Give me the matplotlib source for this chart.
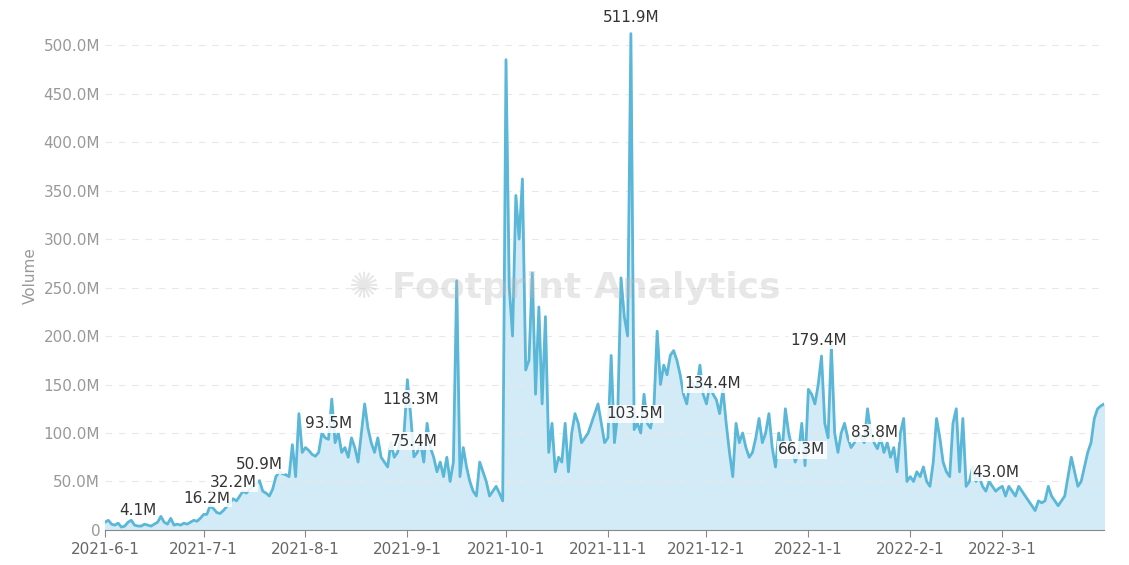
import matplotlib
matplotlib.use("Agg")
import matplotlib.pyplot as plt
import numpy as np
import pandas as pd

jun = [8,10,6,5,7,3,4,8,10,5,4.1,4,6,5,4,6,8,14,8,6,12,5,6,5,7,6,8,10,9,12]
jul = [16,16.2,25,22,18,17,20,24,28,32.2,30,35,40,38,42,45,48,50.9,40,38,35,42,55,60,58,57,55,88,55,120,80]
aug = [85,82,78,76,80,100,95,93.5,135,90,100,80,85,75,95,85,70,100,130,105,90,80,95,75,70,65,90,75,80,95,100]
sep = [155,118.3,75.4,80,90,70,110,85,75,60,70,55,75,50,70,257,55,85,65,50,40,35,70,60,50,35,40,45,38,30]
oct_ = [485,250,200,345,300,362,165,175,265,140,230,130,220,80,110,60,75,70,110,60,100,120,110,90,95,100,110,120,130,110,90]
nov = [95,180,90,120,260,220,200,511.9,103.5,110,100,140,110,105,125,205,150,170,160,180,185,175,160,140,130,155,150,145,170,140,130]
dec = [150,140,134.4,120,145,110,80,55,110,90,100,85,75,80,95,115,90,100,120,85,65,100,80,125,100,85,70,80,110,66.3,145]
jan = [140,130,150,179.4,110,95,190,100,80,100,110,95,85,90,100,95,90,125,100,90,83.8,95,80,90,75,85,60,100,115,50,55]
feb = [50,60,55,65,50,45,70,115,95,70,60,55,110,125,60,115,45,50,65,50,55,45,40,50,45,40,43.0,45]
mar = [35,45,40,35,45,40,35,30,25,20,30,28,30,45,35,30,25,30,35,55,75,60,45,50,65,80,90,115,125,128,130]
values = jun+jul+aug+sep+oct_+nov+dec+jan+feb+mar
dates = pd.date_range("2021-06-01", periods=len(values), freq="D")

labels = [("2021-06-11",4.1),("2021-07-02",16.2),("2021-07-10",32.2),("2021-07-18",50.9),
          ("2021-08-08",93.5),("2021-09-02",118.3),("2021-09-03",75.4),("2021-11-08",511.9),
          ("2021-11-09",103.5),("2021-12-03",134.4),("2021-12-30",66.3),("2022-01-04",179.4),
          ("2022-01-21",83.8),("2022-02-27",43.0)]
ticks = ["2021-6-1","2021-7-1","2021-8-1","2021-9-1","2021-10-1","2021-11-1","2021-12-1","2022-1-1","2022-2-1","2022-3-1"]

fig = plt.figure(figsize=(11.29,5.65), dpi=100)
ax = fig.add_axes([0.093,0.062,0.885,0.901])
v = np.array(values)
ax.fill_between(dates, v, color="#d3ebf6", zorder=1)
ax.plot(dates, v, color="#5ab7d8", lw=2, zorder=2)
ax.set_ylim(0,525)
ax.set_xlim(dates[0], dates[-1])
yt = np.arange(0,501,50)
ax.set_yticks(yt)
ax.set_yticklabels(["0"]+[f"{y:.1f}M" for y in yt[1:]])
ax.set_xticks(pd.to_datetime(ticks))
ax.set_xticklabels(ticks)
ax.tick_params(axis='both', colors="#888888", labelsize=11, length=0)
ax.tick_params(axis='x', length=5, colors="#888888", labelcolor="#666666")
ax.tick_params(axis='y', labelcolor="#999999")
ax.grid(axis='y', ls=(0,(6,6)), color="#e8e8e8", lw=0.8)
for s in ["top","right","left"]:
    ax.spines[s].set_visible(False)
ax.spines["bottom"].set_color("#888888")
ax.set_ylabel("Volume", color="#999999", fontsize=11)
for d, val in labels:
    ax.annotate(f"{val:.1f}M", (pd.Timestamp(d), val), xytext=(0,6), textcoords="offset points",
                ha="center", va="bottom", fontsize=11, color="#333333",
                bbox=dict(boxstyle="square,pad=0.1", fc="white", ec="none", alpha=0.85), zorder=5,
                annotation_clip=False)
fig.text(0.5,0.49,"✺ Footprint Analytics", ha="center", va="center", fontsize=26,
         color="#bbbbbb", alpha=0.35, fontweight="bold", zorder=0)
fig.savefig("out.png", dpi=100)
